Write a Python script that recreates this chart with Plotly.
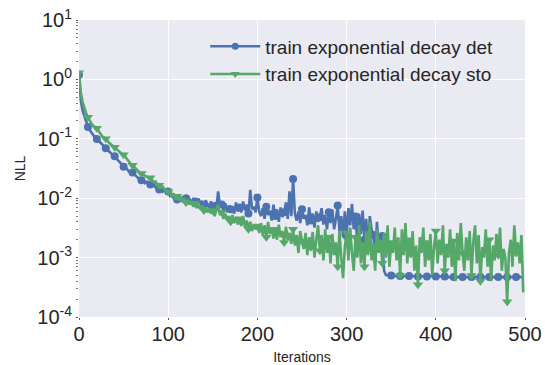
import plotly.graph_objects as go

# Iterations sampled every 2 steps
iterations = list(range(0, 500, 2))

# train exponential decay det (NLL)
nll_det = [
    1.2, 0.45, 0.30, 0.24, 0.19, 0.158, 0.14, 0.125, 0.112, 0.105,
    0.099, 0.092, 0.085, 0.079, 0.074, 0.069, 0.064, 0.060, 0.056, 0.053,
    0.051, 0.046, 0.043, 0.040, 0.037, 0.034, 0.033, 0.031, 0.028, 0.028,
    0.027, 0.025, 0.023, 0.022, 0.021, 0.020, 0.021, 0.018, 0.019, 0.017,
    0.017, 0.016, 0.017, 0.015, 0.015, 0.014, 0.015, 0.013, 0.014, 0.013,
    0.013, 0.011, 0.012, 0.010, 0.0115, 0.0095, 0.011, 0.0090, 0.0105, 0.0092,
    0.0100, 0.0085, 0.0098, 0.0080, 0.0095, 0.0088, 0.0078, 0.0098, 0.0082, 0.0090,
    0.0075, 0.0092, 0.0080, 0.0070, 0.0088, 0.0072, 0.0085, 0.0068, 0.0130, 0.0075,
    0.0078, 0.0062, 0.0082, 0.0058, 0.0075, 0.0065, 0.0072, 0.0055, 0.0085, 0.0060,
    0.0070, 0.0058, 0.0088, 0.0062, 0.0078, 0.0055, 0.0138, 0.0065, 0.0072, 0.0058,
    0.0103, 0.0060, 0.0050, 0.0068, 0.0045, 0.0072, 0.0052, 0.0062, 0.0042, 0.0078,
    0.0050, 0.0065, 0.0040, 0.0070, 0.0048, 0.0058, 0.0085, 0.0045, 0.0130, 0.0050,
    0.021, 0.0055, 0.0042, 0.0060, 0.0038, 0.0065, 0.0045, 0.0052, 0.0035, 0.0070,
    0.0042, 0.0055, 0.0032, 0.0060, 0.0040, 0.0048, 0.0068, 0.0036, 0.0052, 0.0030,
    0.0058, 0.0038, 0.0065, 0.0030, 0.0045, 0.0075, 0.0028, 0.0050, 0.0022, 0.0060,
    0.0023, 0.0068, 0.0035, 0.0080, 0.0030, 0.0049, 0.0018, 0.0055, 0.0025, 0.0062,
    0.0020, 0.0045, 0.0012, 0.0050, 0.0030, 0.0024, 0.0008, 0.0040, 0.0015, 0.0023,
    0.0023, 0.0006, 0.00051, 0.00050, 0.00050, 0.00050, 0.00049, 0.00049, 0.00049, 0.00049,
    0.00049, 0.00049, 0.00049, 0.00049, 0.00049, 0.00049, 0.00049, 0.00048, 0.00048, 0.00048,
    0.00048, 0.00048, 0.00048, 0.00048, 0.00048, 0.00048, 0.00048, 0.00048, 0.00048, 0.00048,
    0.00048, 0.00048, 0.00048, 0.00048, 0.00048, 0.00048, 0.00048, 0.00047, 0.00047, 0.00047,
    0.00047, 0.00047, 0.00047, 0.00047, 0.00047, 0.00047, 0.00047, 0.00047, 0.00047, 0.00047,
    0.00047, 0.00047, 0.00047, 0.00047, 0.00047, 0.00047, 0.00047, 0.00047, 0.00047, 0.00047,
    0.00047, 0.00047, 0.00047, 0.00047, 0.00047, 0.00047, 0.00047, 0.00047, 0.00047, 0.00047,
    0.00047, 0.00047, 0.00047, 0.00047, 0.00047, 0.00047, 0.00047, 0.00047, 0.00047, 0.00047,
]

# train exponential decay sto (NLL)
nll_sto = [
    1.3, 0.60, 0.42, 0.33, 0.27, 0.23, 0.20, 0.18, 0.165, 0.155,
    0.150, 0.135, 0.122, 0.110, 0.105, 0.100, 0.092, 0.085, 0.080, 0.076,
    0.072, 0.066, 0.062, 0.058, 0.056, 0.054, 0.049, 0.044, 0.041, 0.038,
    0.036, 0.033, 0.031, 0.029, 0.027, 0.026, 0.025, 0.024, 0.023, 0.022,
    0.022, 0.020, 0.0185, 0.019, 0.017, 0.0165, 0.015, 0.0155, 0.014, 0.0135,
    0.013, 0.0125, 0.0110, 0.0120, 0.0100, 0.0108, 0.0095, 0.0105, 0.0090, 0.0098,
    0.0085, 0.0092, 0.0078, 0.0088, 0.0072, 0.0082, 0.0068, 0.0078, 0.0065, 0.0075,
    0.0062, 0.0070, 0.0058, 0.0065, 0.0055, 0.0062, 0.0050, 0.0060, 0.0078, 0.0052,
    0.0058, 0.0045, 0.0055, 0.0042, 0.0050, 0.0040, 0.0052, 0.0038, 0.0048, 0.0036,
    0.0045, 0.0034, 0.0050, 0.0033, 0.0042, 0.0030, 0.0040, 0.0028, 0.0036, 0.0030,
    0.0034, 0.0026, 0.0038, 0.0024, 0.0035, 0.0022, 0.0040, 0.0025, 0.0032, 0.0021,
    0.0030, 0.0020, 0.0036, 0.0022, 0.0028, 0.0018, 0.0033, 0.0020, 0.0026, 0.0017,
    0.0030, 0.0016, 0.0024, 0.0012, 0.0028, 0.0019, 0.0014, 0.0026, 0.0011, 0.0022,
    0.0015, 0.0027, 0.0010, 0.0020, 0.0035, 0.0013, 0.0024, 0.0009, 0.0030, 0.0012,
    0.0022, 0.0008, 0.0025, 0.0011, 0.0018, 0.0007, 0.0028, 0.0010, 0.00045, 0.0015,
    0.0026, 0.0009, 0.0032, 0.0012, 0.0006, 0.0022, 0.0010, 0.0035, 0.0008, 0.0018,
    0.0007, 0.0028, 0.0011, 0.0040, 0.0009, 0.0016, 0.0006, 0.0030, 0.0012, 0.0020,
    0.0008, 0.0026, 0.0010, 0.0035, 0.0007, 0.0018, 0.0012, 0.0032, 0.0009, 0.0022,
    0.0005, 0.0030, 0.0011, 0.0038, 0.0008, 0.0020, 0.0010, 0.0028, 0.0006, 0.0016,
    0.00035, 0.0022, 0.0012, 0.0032, 0.0007, 0.0018, 0.0009, 0.0025, 0.0005, 0.0015,
    0.0028, 0.0008, 0.0020, 0.0011, 0.0035, 0.0006, 0.0017, 0.0010, 0.0030, 0.0007,
    0.0019, 0.0004, 0.0026, 0.0009, 0.0038, 0.0012, 0.0006, 0.0022, 0.0009, 0.0028,
    0.0005, 0.0018, 0.0035, 0.0008, 0.0024, 0.0004, 0.0015, 0.0010, 0.0030, 0.0007,
    0.0020, 0.0004, 0.0016, 0.0009, 0.0025, 0.0011, 0.0032, 0.0006, 0.0014, 0.0010,
    0.00018, 0.0012, 0.0020, 0.0007, 0.0035, 0.0012, 0.0018, 0.0008, 0.0024, 0.00026,
]

series_names = ["train exponential decay det", "train exponential decay sto"]
x_ticks = [0, 100, 200, 300, 400, 500]
y_ticks = [1e-4, 1e-3, 1e-2, 1e-1, 1e0, 1e1]
y_tick_text = ["10<sup>-4</sup>", "10<sup>-3</sup>", "10<sup>-2</sup>",
               "10<sup>-1</sup>", "10<sup>0</sup>", "10<sup>1</sup>"]

colors = ["#4C72B0", "#55A868"]
symbols = ["circle", "triangle-down"]
msizes = [8, 9]
MARK_EVERY = 5  # every 10 iterations

fig = go.Figure()
for name, ys, c, sym, ms in zip(series_names, [nll_det, nll_sto], colors, symbols, msizes):
    fig.add_trace(go.Scatter(x=iterations, y=ys, mode="lines",
                             line=dict(color=c, width=2.6), showlegend=False,
                             hoverinfo="skip"))
    fig.add_trace(go.Scatter(x=iterations[::MARK_EVERY], y=ys[::MARK_EVERY], mode="markers",
                             marker=dict(color=c, symbol=sym, size=ms, line=dict(width=0)),
                             showlegend=False))
    fig.add_trace(go.Scatter(x=[None], y=[None], mode="lines+markers", name=name,
                             line=dict(color=c, width=2.6),
                             marker=dict(color=c, symbol=sym, size=ms - 1, line=dict(width=0))))

font_family = "Liberation Sans, Arial, sans-serif"
text_color = "#262626"

fig.update_layout(
    width=545, height=365,
    margin=dict(l=79, r=20, t=20, b=48),
    paper_bgcolor="white",
    plot_bgcolor="#EAEAF2",
    font=dict(family=font_family, color=text_color, size=20),
    legend=dict(x=0.283, y=0.975, xanchor="left", yanchor="top",
                bgcolor="rgba(0,0,0,0)", font=dict(size=19, color=text_color),
                tracegroupgap=0, itemwidth=50),
    showlegend=True,
)
fig.update_xaxes(
    range=[0, 500], tickvals=x_ticks, ticktext=[str(v) for v in x_ticks],
    showgrid=True, gridcolor="white", gridwidth=1.3, zeroline=False, showline=False,
    ticks="outside", ticklen=2, tickcolor="#555555", automargin=False,
    ticklabelstandoff=-3, ticklabeloverflow="allow",
    tickfont=dict(size=20, color=text_color),
    title=dict(text="Iterations", font=dict(size=14, color=text_color), standoff=8),
)
fig.update_yaxes(
    type="log", range=[-4, 1], tickvals=y_ticks, ticktext=y_tick_text,
    showgrid=True, gridcolor="white", gridwidth=1.3, zeroline=False, showline=False,
    ticks="outside", ticklen=2, tickcolor="#555555", automargin=False,
    ticklabeloverflow="allow",
    minor=dict(ticks="outside", ticklen=2, tickcolor="#777777", showgrid=False, dtick="D1"),
    tickfont=dict(size=20, color=text_color),
    title=dict(text="NLL", font=dict(size=14, color=text_color), standoff=8),
)

# remove the browser's default 8px body margin so the figure fills the window
fig.write_html("out.html", config={"displayModeBar": False},
               post_script="document.body.style.margin='0px';")
